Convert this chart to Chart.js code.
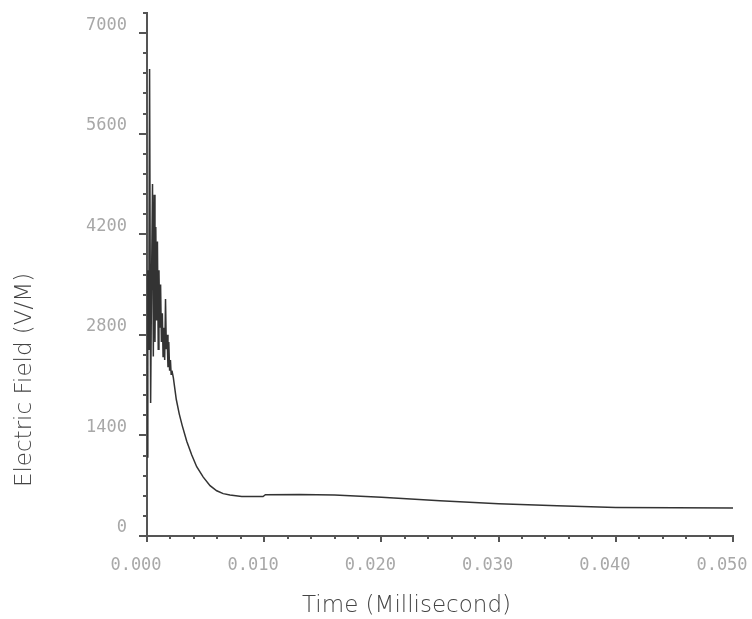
<!DOCTYPE html>
<html>
<head>
<meta charset="utf-8">
<script src="https://cdn.jsdelivr.net/npm/chart.js@4"></script>
<style>
  body { margin: 0; background: #fff; }
</style>
</head>
<body>
<canvas id="grafico" width="752" height="619"></canvas>
<script>
// tiempo en milisegundos y campo electrico (V/M)
const timeMs = [
    0.00000, 0.00007, 0.00011, 0.00017, 0.00022, 0.00031, 0.00039, 0.00047,
    0.00054, 0.00061, 0.00068, 0.00075, 0.00082, 0.00089, 0.00096, 0.00102,
    0.00109, 0.00116, 0.00123, 0.00131, 0.00137, 0.00144, 0.00151, 0.00158,
    0.00165, 0.00171, 0.00179, 0.00186, 0.00193, 0.00200, 0.00206, 0.00213,
    0.00225, 0.00250, 0.00275, 0.00300, 0.00339, 0.00381, 0.00424, 0.00480,
    0.00538, 0.00595, 0.00650, 0.00708, 0.00808, 0.00990, 0.01010, 0.01300,
    0.01600, 0.02000, 0.02500, 0.03000, 0.03500, 0.04000, 0.04500, 0.05000
];
const fieldVm = [
    1100, 3700, 2600, 3900, 6500, 1850, 3600, 4900,
    2500, 4750, 2700, 4300, 3000, 4100, 2600, 3700,
    2900, 3500, 2700, 3100, 2500, 2900, 2450, 3300,
    2600, 2800, 2350, 2700, 2300, 2450, 2250, 2300,
    2200, 1900, 1700, 1540, 1320, 1130, 965, 820,
    700, 630, 590, 571, 550, 550, 575, 578,
    570, 540, 490, 450, 420, 398, 392, 390
];
const xMax = 0.05, xStep = 0.002, xMajor = 0.01;
const yMax = 7280, yStep = 280, yMajor = 1400;

const xTitle = 'Time (Millisecond)';
const yTitle = 'Electric Field (V/M)';

const points = timeMs.map((t, i) => ({ x: t, y: fieldVm[i] }));

// marcas mayores y menores del eje + titulos
const axisDecor = {
    id: 'axisDecor',
    afterDraw(chart) {
        const ctx = chart.ctx;
        const xs = chart.scales.x, ys = chart.scales.y;
        const area = chart.chartArea;
        ctx.save();
        ctx.strokeStyle = '#555';
        ctx.lineWidth = 2;
        ctx.beginPath();
        ys.ticks.forEach(tk => {
            const py = Math.round(ys.getPixelForValue(tk.value));
            const major = Math.abs(tk.value / yMajor - Math.round(tk.value / yMajor)) < 1e-6;
            const len = major ? 8 : 4;
            ctx.moveTo(area.left, py);
            ctx.lineTo(area.left - len, py);
        });
        xs.ticks.forEach(tk => {
            const px = Math.round(xs.getPixelForValue(tk.value));
            const major = Math.abs(tk.value / xMajor - Math.round(tk.value / xMajor)) < 1e-6;
            const len = major ? 6 : 3;
            ctx.moveTo(px, area.bottom);
            ctx.lineTo(px, area.bottom + len);
        });
        ctx.stroke();

        ctx.fillStyle = '#444';
        ctx.font = '200 23px "DejaVu Sans"';
        ctx.textAlign = 'left';
        ctx.textBaseline = 'alphabetic';
        ctx.fillText(xTitle, 302, 612);

        ctx.translate(31, 380);
        ctx.rotate(-Math.PI / 2);
        ctx.textAlign = 'center';
        ctx.fillText(yTitle, 0, 0);
        ctx.restore();
    }
};

new Chart(document.getElementById('grafico').getContext('2d'), {
    type: 'line',
    data: {
        datasets: [{
            data: points,
            borderColor: '#333',
            borderWidth: 1.5,
            pointRadius: 0,
            tension: 0,
            fill: false
        }]
    },
    options: {
        responsive: false,
        animation: false,
        layout: { padding: { top: 13, right: 19, left: 0, bottom: 0 } },
        plugins: { legend: { display: false }, tooltip: { enabled: false } },
        scales: {
            x: {
                type: 'linear',
                min: 0,
                max: xMax,
                grid: { display: false },
                border: { display: true, color: '#555', width: 2 },
                ticks: {
                    stepSize: xStep,
                    autoSkip: false,
                    maxRotation: 0,
                    padding: 11,
                    labelOffset: -11,
                    color: '#a8a8a8',
                    font: { family: 'DejaVu Sans Mono', size: 17 },
                    callback: v => (Math.round(v * 1000) % 10 === 0) ? v.toFixed(3) : ''
                },
                afterFit(s) { s.height = 83; s.paddingLeft = 0; s.paddingRight = 0; }
            },
            y: {
                min: 0,
                max: yMax,
                grid: { display: false },
                border: { display: true, color: '#555', width: 2 },
                ticks: {
                    stepSize: yStep,
                    autoSkip: false,
                    padding: 12,
                    labelOffset: -8,
                    color: '#a8a8a8',
                    font: { family: 'DejaVu Sans Mono', size: 17 },
                    callback: v => (Math.round(v) % yMajor === 0) ? String(Math.round(v)) : ''
                },
                afterFit(s) { s.width = 147; s.paddingTop = 0; s.paddingBottom = 0; }
            }
        }
    },
    plugins: [axisDecor]
});
</script>
</body>
</html>
